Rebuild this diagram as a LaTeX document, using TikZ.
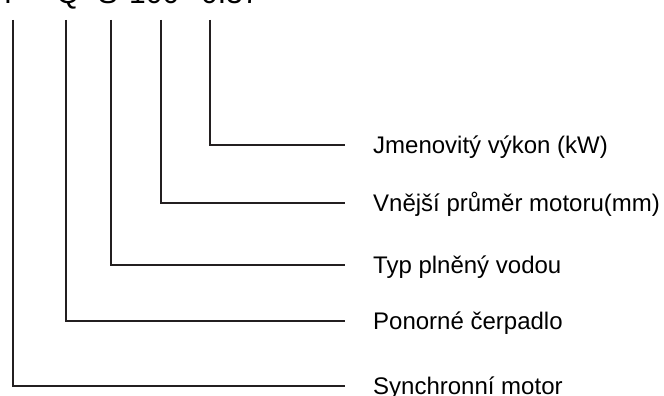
\documentclass[tikz,border=0pt]{standalone}
\usepackage{fontspec}
\setmainfont{Liberation Sans}
\definecolor{linecol}{HTML}{231F20}
\begin{document}
\begin{tikzpicture}[x=1pt,y=-1pt,
  conn/.style={draw=linecol, line width=2.4pt, line cap=butt, line join=miter},
  lab/.style={anchor=base west, inner sep=0pt, font=\fontsize{24}{28}\selectfont},
  code/.style={anchor=base, inner sep=0pt, font=\fontsize{30}{36}\selectfont}]
\useasboundingbox (0,0) rectangle (664,396);
% model code (cut off at the top)
\node[code] (cT) at (8,4) {T};
\node[code] (cQ) at (68,4) {Q};
\node[code] (cS) at (108,4) {S};
\node[code,anchor=base west] (cN) at (129,4) {100};
\node[code] (cH) at (190,4) {-};
\node[code,anchor=base west] (cP) at (201,4) {0.37};
% connector tops
\coordinate (a1) at (13,20);
\coordinate (a2) at (66,20);
\coordinate (a3) at (111,20);
\coordinate (a4) at (161,20);
\coordinate (a5) at (210,20);
% connector ends
\coordinate (b1) at (345,386);
\coordinate (b2) at (345,321);
\coordinate (b3) at (345,265);
\coordinate (b4) at (345,203);
\coordinate (b5) at (345,145);
% labels
\node[lab] (l1) at (373,394.6) {Synchronní motor};
\node[lab] (l2) at (373,329.6) {Ponorné čerpadlo};
\node[lab] (l3) at (373,273.6) {Typ plněný vodou};
\node[lab] (l4) at (373,211.6) {Vnější průměr motoru(mm)};
\node[lab] (l5) at (373,153.6) {Jmenovitý výkon (kW)};
% connectors
\draw[conn] (a1) |- (b1);
\draw[conn] (a2) |- (b2);
\draw[conn] (a3) |- (b3);
\draw[conn] (a4) |- (b4);
\draw[conn] (a5) |- (b5);
\end{tikzpicture}
\end{document}
